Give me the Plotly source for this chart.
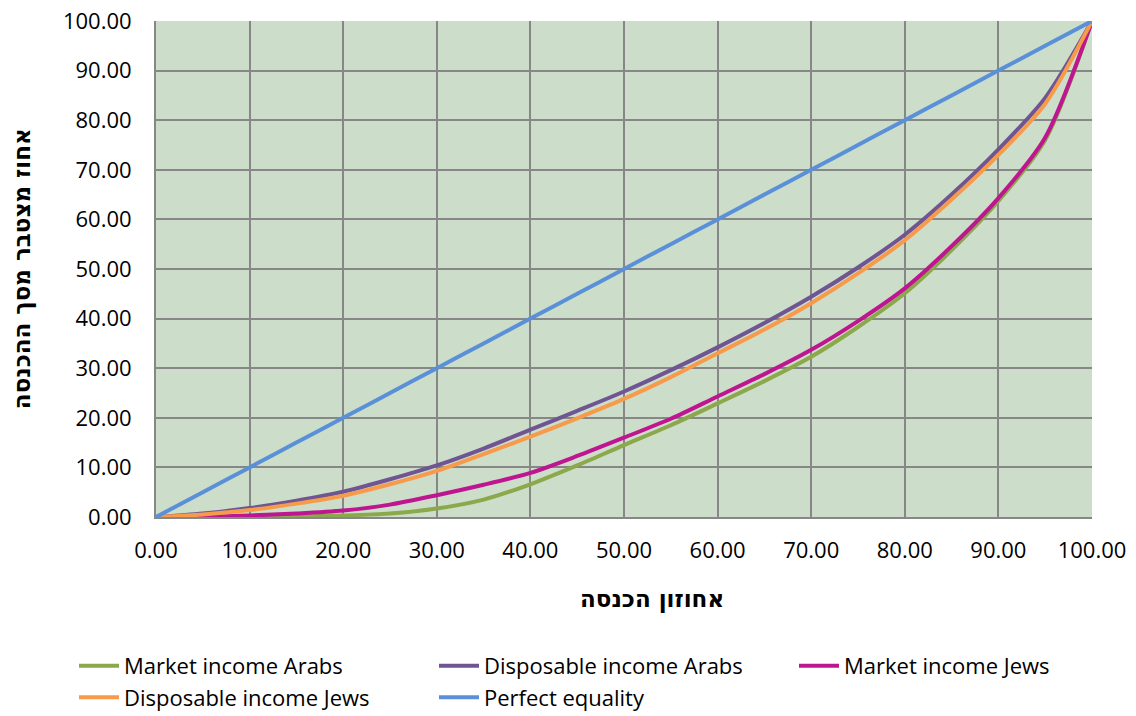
import plotly.graph_objects as go

pct = [0, 5, 10, 15, 20, 25, 30, 35, 40, 45, 50, 55, 60, 65, 70, 75, 80, 85, 90, 95, 100]

market_arabs = [0, 0, 0, 0.1, 0.3, 0.7, 1.7, 3.5, 6.6, 10.4, 14.5, 18.5, 22.9, 27.4, 32.3, 38.3, 45.1, 53.8, 63.7, 76.0, 100]
disp_arabs = [0, 0.7, 1.8, 3.3, 5.1, 7.6, 10.4, 13.8, 17.6, 21.4, 25.3, 29.6, 34.2, 39.1, 44.4, 50.3, 56.9, 65.0, 74.1, 84.5, 100]
market_jews = [0, 0.05, 0.3, 0.7, 1.3, 2.5, 4.4, 6.5, 8.9, 12.3, 16.0, 19.8, 24.3, 28.8, 33.7, 39.5, 46.1, 54.6, 64.3, 76.5, 100]
disp_jews = [0, 0.5, 1.4, 2.7, 4.3, 6.6, 9.3, 12.7, 16.2, 19.9, 23.8, 28.2, 33.0, 37.8, 43.1, 49.1, 55.8, 64.0, 73.0, 83.3, 100]
equality = [0, 5, 10, 15, 20, 25, 30, 35, 40, 45, 50, 55, 60, 65, 70, 75, 80, 85, 90, 95, 100]

names = ["Market income Arabs", "Disposable income Arabs", "Market income Jews",
         "Disposable income Jews", "Perfect equality"]
series = [market_arabs, disp_arabs, market_jews, disp_jews, equality]
colors = ["#8BA84B", "#6F5592", "#BE1590", "#F79A4A", "#5A90D8"]

x_title = "אחוזון הכנסה"
y_title = "אחוז מצטבר מסך ההכנסה"

FONT = "'Open Sans', 'DejaVu Sans', sans-serif"
TFONT = "'DejaVu Sans', sans-serif"

fig = go.Figure()
for name, ys, c in zip(names, series, colors):
    fig.add_trace(go.Scatter(
        x=pct, y=ys, name=name, mode="lines",
        line=dict(color=c, width=4, shape="spline", smoothing=0.8),
    ))

fig.update_layout(
    width=1136, height=716,
    margin=dict(l=156, r=44, t=21, b=199, autoexpand=False),
    paper_bgcolor="white",
    plot_bgcolor="#CCDDCA",
    font=dict(family=FONT, size=22, color="black"),
    showlegend=True,
    legend=dict(
        orientation="h", x=-0.0876, xanchor="left", y=-0.258, yanchor="top",
        entrywidth=305, entrywidthmode="pixels",
        font=dict(family=FONT, size=22, color="black"),
        itemwidth=40, tracegroupgap=0,
        bgcolor="rgba(0,0,0,0)",
    ),
    xaxis=dict(
        range=[0, 100], dtick=10, tick0=0, tickformat=".2f",
        showgrid=True, gridcolor="#878787", gridwidth=2,
        showline=True, linecolor="#878787", linewidth=2,
        zeroline=False, ticks="", ticklen=0, ticklabelstandoff=13,
        ticklabeloverflow="allow",
    ),
    yaxis=dict(
        range=[0, 100], dtick=10, tick0=0, tickformat=".2f",
        showgrid=True, gridcolor="#878787", gridwidth=2,
        showline=True, linecolor="#878787", linewidth=2,
        zeroline=False, ticks="", ticklen=0, ticklabelstandoff=18,
        ticklabeloverflow="allow",
    ),
    annotations=[
        dict(text="<b>" + x_title + "</b>", xref="paper", yref="paper",
             x=0.53, y=-0.167, xanchor="center", yanchor="middle", showarrow=False,
             font=dict(family=TFONT, size=23, color="black")),
        dict(text="<b>" + y_title + "</b>", xref="paper", yref="paper",
             x=-0.143, y=0.5, xanchor="center", yanchor="middle", showarrow=False,
             textangle=-90, font=dict(family=TFONT, size=23, color="black")),
    ],
)

fig.write_html(
    "out.html",
    config={"displayModeBar": False},
    post_script="document.body.style.margin='0px';document.body.style.overflow='hidden';",
)
